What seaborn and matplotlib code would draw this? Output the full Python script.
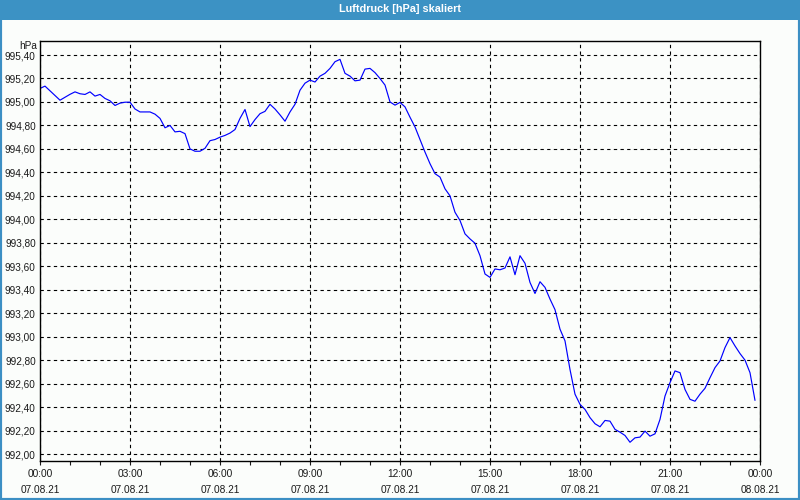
import matplotlib
matplotlib.use("Agg")
import matplotlib.pyplot as plt
import matplotlib.patches as mpatches
import seaborn as sns
import numpy as np
import pandas as pd

# 10-minute readings, 07.08.21 00:00 .. 23:50
pressure = [
    995.115, 995.135, 995.095, 995.055, 995.015, 995.04, 995.065, 995.086, 995.07, 995.064,
    995.086, 995.05, 995.064, 995.03, 995.01, 994.97, 994.99, 994.998, 994.998, 994.94,
    994.915, 994.915, 994.915, 994.896, 994.86, 994.78, 994.80, 994.745, 994.75, 994.73,
    994.60, 994.58, 994.58, 994.605, 994.67, 994.68, 994.70, 994.715, 994.735, 994.765,
    994.86, 994.936, 994.79, 994.85, 994.90, 994.92, 994.98, 994.94, 994.89, 994.836,
    994.915, 994.98, 995.10, 995.16, 995.186, 995.17, 995.22, 995.244, 995.286, 995.343,
    995.363, 995.244, 995.22, 995.18, 995.186, 995.28, 995.286, 995.25, 995.20, 995.144,
    995.00, 994.973, 994.996, 994.958, 994.87, 994.787, 994.68, 994.573, 994.474, 994.389,
    994.36, 994.26, 994.20, 994.06, 993.99, 993.876, 993.833, 993.796, 993.69, 993.534,
    993.505, 993.577, 993.57, 993.585, 993.68, 993.528, 993.69, 993.625, 993.462, 993.368,
    993.468, 993.42, 993.32, 993.23, 993.064, 992.964, 992.72, 992.51, 992.423, 992.38,
    992.31, 992.258, 992.232, 992.286, 992.28, 992.21, 992.186, 992.158, 992.10, 992.138,
    992.144, 992.195, 992.152, 992.172, 992.295, 992.494, 992.608, 992.708, 992.693, 992.55,
    992.466, 992.45, 992.51, 992.56, 992.65, 992.736, 992.793, 992.907, 992.992, 992.921,
    992.856, 992.80, 992.693, 992.457,
]
step_minutes = 10
hours = [i * step_minutes / 60 for i in range(len(pressure))]

x_tick_hours = [0, 3, 6, 9, 12, 15, 18, 21, 24]
x_tick_labels = ["00:00\n07.08.21", "03:00\n07.08.21", "06:00\n07.08.21", "09:00\n07.08.21",
                 "12:00\n07.08.21", "15:00\n07.08.21", "18:00\n07.08.21", "21:00\n07.08.21",
                 "00:00\n08.08.21"]
y_ticks = [992.0 + 0.2 * k for k in range(18)]
y_tick_labels = [f"{v:.2f}".replace(".", ",") for v in y_ticks]

title = "Luftdruck [hPa] skaliert"
unit = "hPa"

df = pd.DataFrame({"h": hours, "p": pressure})

sns.set_style("white")
plt.rcParams["font.family"] = ["Liberation Sans", "DejaVu Sans"]

fig = plt.figure(figsize=(8, 5), dpi=100)
fig.patch.set_facecolor("#fbfdfb")
# outer blue border and title bar
fig.patches.append(mpatches.Rectangle((0, 0), 1, 1, transform=fig.transFigure,
                                      fill=False, edgecolor="#3c8fc4", linewidth=3, zorder=0))
fig.patches.append(mpatches.Rectangle((0, 0.96), 1, 0.04, transform=fig.transFigure,
                                      facecolor="#3c92c4", edgecolor="none", zorder=1))
fig.text(0.5, 0.981, title, color="white", ha="center", va="center",
         fontsize=7.8, fontweight="bold")

ax = fig.add_axes([0.05, 0.0786, 0.90, 0.84])
ax.set_facecolor("#fbfdfb")
sns.lineplot(data=df, x="h", y="p", ax=ax, color="#0000ff", linewidth=0.85)

ax.set_xlim(0, 24)
ax.set_ylim(991.943, 995.522)
ax.set_xticks(x_tick_hours)
ax.set_xticklabels(x_tick_labels, fontsize=7.3, color="#1a1a1a", linespacing=1.7)
ax.set_xticks(list(range(25)), minor=True)
ax.set_yticks(y_ticks)
ax.set_yticklabels(y_tick_labels, fontsize=7.2, color="#1a1a1a")
ax.set_xlabel("")
ax.set_ylabel("")
ax.tick_params(axis="x", which="both", direction="out", length=3, width=0.8,
               colors="#1a1a1a", bottom=True, pad=3)
ax.tick_params(axis="y", length=0, pad=3)
ax.grid(True, which="major", color="black", linestyle=(0, (3, 3)), linewidth=0.8)
for s in ax.spines.values():
    s.set_visible(True)
    s.set_color("black")
    s.set_linewidth(1.0)
ax.text(-0.004, 1.0, unit, transform=ax.transAxes, ha="right", va="top",
        fontsize=7.2, color="#1a1a1a")

fig.savefig("out.png", dpi=100, facecolor=fig.get_facecolor())
